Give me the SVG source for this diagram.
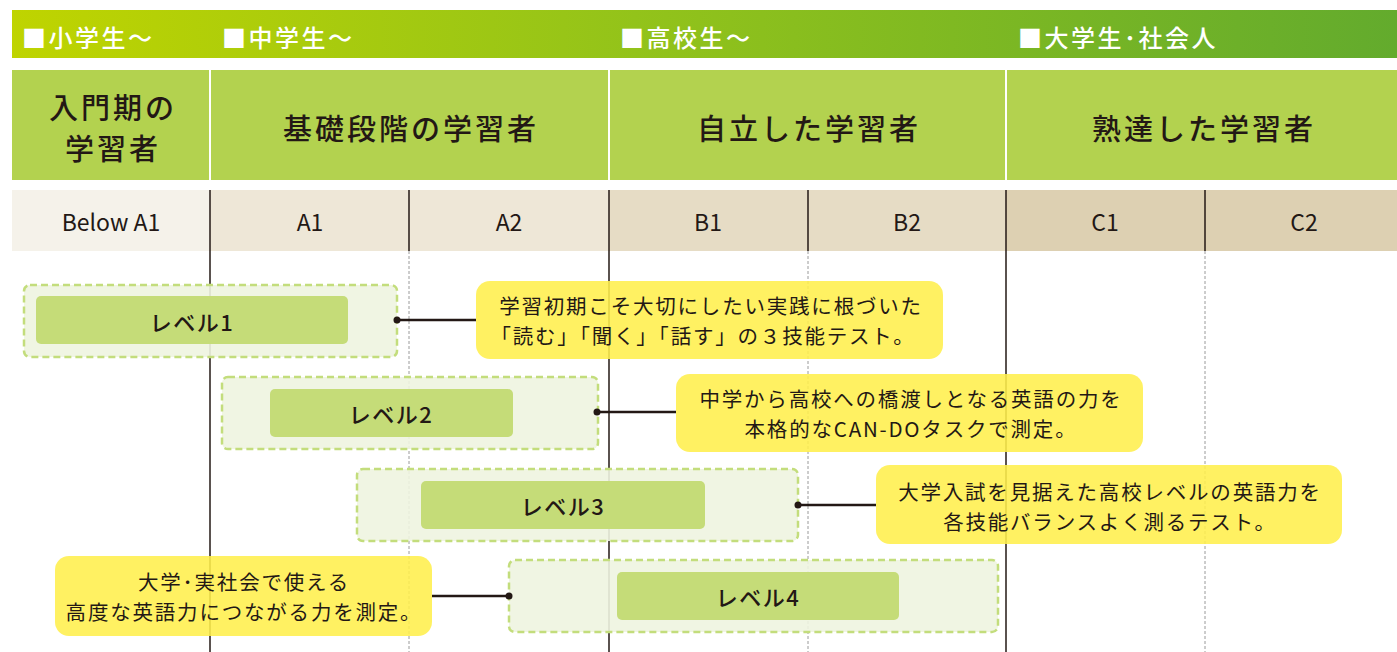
<svg xmlns="http://www.w3.org/2000/svg" width="1397" height="652" viewBox="0 0 1397 652">
<defs>
<linearGradient id="band" x1="0" y1="0" x2="1" y2="0">
<stop offset="0" stop-color="#bfd400"/>
<stop offset="0.45" stop-color="#93c31a"/>
<stop offset="1" stop-color="#63ab2d"/>
</linearGradient>
<marker id="dot" markerWidth="10" markerHeight="10" refX="5" refY="5" markerUnits="userSpaceOnUse">
<circle cx="5" cy="5" r="3.5" fill="#231815"/>
</marker>
</defs>
<style>
text{font-family:"Noto Sans CJK JP","Noto Sans",sans-serif;fill:#231815;text-anchor:middle;dominant-baseline:central}
.band{fill:#fff;text-anchor:start;font-size:24px;font-weight:500;letter-spacing:2.5px}
.hd{font-size:29px;font-weight:500;letter-spacing:3px}
.lv{font-size:23px;font-weight:400}
.cb{fill:#ffef4c;fill-opacity:0.88}
.ct{font-size:20.5px;letter-spacing:1.8px}
.outer{fill:#eef4e0;fill-opacity:0.9;stroke:#c3dd7c;stroke-width:2.5;stroke-dasharray:7 4}
.inner{fill:#c5dc78}
.lt{font-size:22px;font-weight:500;letter-spacing:1.5px}
.solid{stroke:#231815;stroke-width:1.5}
.dotted{stroke:#9a9a9a;stroke-width:1;stroke-dasharray:3 2}
.conn{stroke:#231815;stroke-width:2.5;fill:none}
</style>
<rect width="1397" height="652" fill="#fff"/>
<g id="band-row">
<rect x="12" y="10" width="1385" height="48" fill="url(#band)"/>
<text class="band" x="22" y="36">■小学生～</text>
<text class="band" x="222" y="36">■中学生～</text>
<text class="band" x="620" y="36">■高校生～</text>
<text class="band" x="1018" y="36">■大学生･社会人</text>
</g>
<g id="header-row">
<rect x="12" y="70" width="1385" height="110" fill="#b3d24f"/>
<g stroke="#fff" stroke-width="2"><line x1="210" y1="70" x2="210" y2="180"/><line x1="609" y1="70" x2="609" y2="180"/><line x1="1006" y1="70" x2="1006" y2="180"/></g>
<text class="hd" x="113" y="106">入門期の</text>
<text class="hd" x="113" y="147">学習者</text>
<text class="hd" x="411" y="127">基礎段階の学習者</text>
<text class="hd" x="809" y="127">自立した学習者</text>
<text class="hd" x="1204" y="127">熟達した学習者</text>
</g>
<g id="cefr-row">
<rect x="12" y="190" width="198" height="61" fill="#f5f2ea"/>
<rect x="210" y="190" width="399" height="61" fill="#eee7d7"/>
<rect x="609" y="190" width="397" height="61" fill="#e6dcc5"/>
<rect x="1006" y="190" width="391" height="61" fill="#ddd0b2"/>
<text class="lv" x="111" y="221">Below A1</text>
<text class="lv" x="310" y="221">A1</text>
<text class="lv" x="509" y="221">A2</text>
<text class="lv" x="708" y="221">B1</text>
<text class="lv" x="907" y="221">B2</text>
<text class="lv" x="1105" y="221">C1</text>
<text class="lv" x="1304" y="221">C2</text>
</g>
<g id="grid">
<line class="solid" x1="210" y1="190" x2="210" y2="652"/>
<line class="solid" x1="609" y1="190" x2="609" y2="652"/>
<line class="solid" x1="1006" y1="190" x2="1006" y2="652"/>
<line class="solid" x1="409" y1="190" x2="409" y2="251"/>
<line class="solid" x1="808" y1="190" x2="808" y2="251"/>
<line class="solid" x1="1205" y1="190" x2="1205" y2="251"/>
<line class="dotted" x1="409" y1="251" x2="409" y2="652"/>
<line class="dotted" x1="808" y1="251" x2="808" y2="652"/>
<line class="dotted" x1="1205" y1="251" x2="1205" y2="652"/>
</g>
<g id="level1">
<rect class="outer" x="24" y="285" width="373" height="72" rx="6"/>
<rect class="inner" x="36" y="296" width="312" height="48" rx="5"/>
<text class="lt" x="192" y="321">レベル1</text>
</g>
<g id="note1">
<rect class="cb" x="476" y="281" width="467" height="78" rx="14"/>
<text class="ct" x="711" y="305">学習初期こそ大切にしたい実践に根づいた</text>
<text class="ct" x="703" y="335">「読む」「聞く」「話す」の３技能テスト。</text>
</g>
<g id="level2">
<rect class="outer" x="222" y="377" width="376" height="72" rx="6"/>
<rect class="inner" x="270" y="389" width="243" height="48" rx="5"/>
<text class="lt" x="391" y="413">レベル2</text>
</g>
<g id="note2">
<rect class="cb" x="676" y="374" width="467" height="78" rx="14"/>
<text class="ct" x="911" y="398">中学から高校への橋渡しとなる英語の力を</text>
<text class="ct" x="911" y="428">本格的なCAN-DOタスクで測定。</text>
</g>
<g id="level3">
<rect class="outer" x="357" y="469" width="441" height="72" rx="6"/>
<rect class="inner" x="421" y="481" width="284" height="48" rx="5"/>
<text class="lt" x="563" y="505">レベル3</text>
</g>
<g id="note3">
<rect class="cb" x="876" y="465" width="466" height="79" rx="14"/>
<text class="ct" x="1110" y="491">大学入試を見据えた高校レベルの英語力を</text>
<text class="ct" x="1110" y="521">各技能バランスよく測るテスト。</text>
</g>
<g id="level4">
<rect class="outer" x="509" y="560" width="489" height="72" rx="6"/>
<rect class="inner" x="617" y="572" width="282" height="48" rx="5"/>
<text class="lt" x="758" y="596">レベル4</text>
</g>
<g id="note4">
<rect class="cb" x="55" y="556" width="377" height="80" rx="14"/>
<text class="ct" x="244" y="581">大学･実社会で使える</text>
<text class="ct" x="244" y="611">高度な英語力につながる力を測定。</text>
</g>
<g id="connectors">
<line class="conn" x1="476" y1="320" x2="397" y2="320" marker-end="url(#dot)"/>
<line class="conn" x1="676" y1="412" x2="597" y2="412" marker-end="url(#dot)"/>
<line class="conn" x1="876" y1="505" x2="798" y2="505" marker-end="url(#dot)"/>
<line class="conn" x1="432" y1="596" x2="509" y2="596" marker-end="url(#dot)"/>
</g>
</svg>
